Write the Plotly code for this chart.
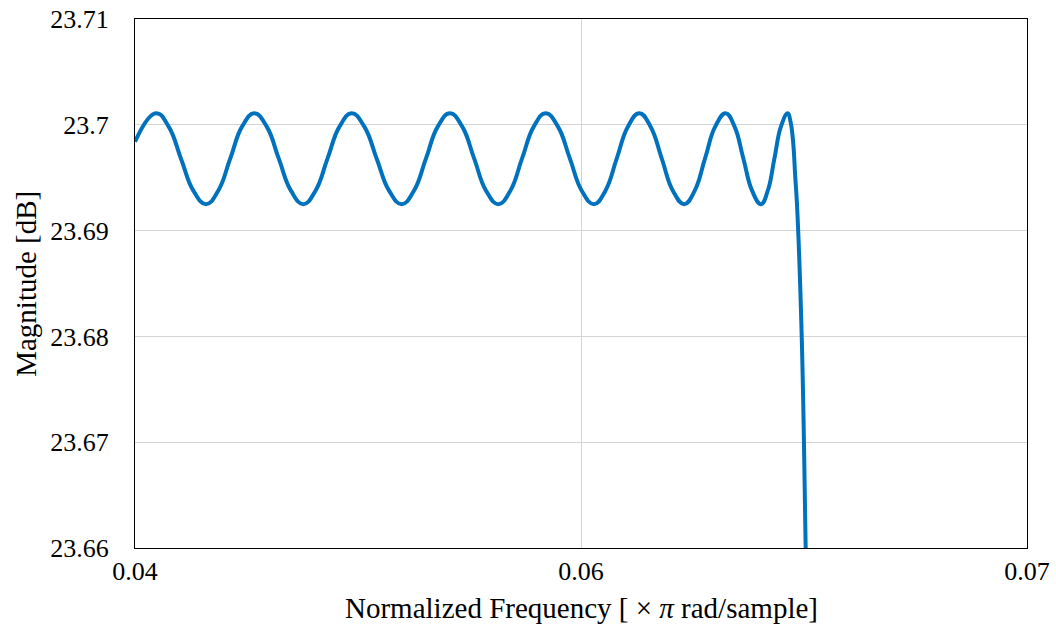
import plotly.graph_objects as go

# Normalized frequency (x pi rad/sample) and magnitude (dB)
freq = [
    0.040000, 0.040706, 0.041127, 0.041547, 0.041967, 0.042388,
    0.042795, 0.043202, 0.043605, 0.044012,
    0.044426, 0.044836, 0.045250, 0.045660,
    0.046067, 0.046474, 0.046881, 0.047288,
    0.047708, 0.048129, 0.048549, 0.048970,
    0.049377, 0.049784, 0.050187, 0.050594,
    0.051001, 0.051408, 0.051812, 0.052219,
    0.052619, 0.053016, 0.053416, 0.053813,
    0.054220, 0.054627, 0.055030, 0.055437,
    0.055817, 0.056201, 0.056581, 0.056961,
    0.057337, 0.057717, 0.058094, 0.058471,
    0.058821, 0.059170, 0.059517, 0.059866,
    0.060162, 0.060462, 0.060758, 0.061054,
    0.061279, 0.061504, 0.061726, 0.061952,
    0.062046, 0.062130, 0.062207, 0.062264, 0.062423, 0.062557, 0.062584,
]
mag = [
    23.6984, 23.7011, 23.69985, 23.6968, 23.69375, 23.6925,
    23.69375, 23.6968, 23.69985, 23.7011,
    23.69985, 23.6968, 23.69375, 23.6925,
    23.69375, 23.6968, 23.69985, 23.7011,
    23.69985, 23.6968, 23.69375, 23.6925,
    23.69375, 23.6968, 23.69985, 23.7011,
    23.69985, 23.6968, 23.69375, 23.6925,
    23.69375, 23.6968, 23.69985, 23.7011,
    23.69985, 23.6968, 23.69375, 23.6925,
    23.69375, 23.6968, 23.69985, 23.7011,
    23.69985, 23.6968, 23.69375, 23.6925,
    23.69375, 23.6968, 23.69985, 23.7011,
    23.69985, 23.6968, 23.69375, 23.6925,
    23.69375, 23.6968, 23.69985, 23.7011,
    23.7003, 23.6985, 23.6950, 23.6925, 23.6800, 23.6600, 23.6560,
]

x_tickvals = [0.04, 0.055, 0.07]
x_ticktext = ["0.04", "0.06", "0.07"]
y_tickvals = [23.66, 23.67, 23.68, 23.69, 23.70, 23.71]
y_ticktext = ["23.66", "23.67", "23.68", "23.69", "23.7", "23.71"]

fig = go.Figure()
fig.add_trace(go.Scatter(
    x=freq, y=mag, mode="lines",
    line=dict(color="#0072BD", width=4, shape="spline", smoothing=1.3),
    showlegend=False,
))

font_family = "Liberation Serif"
fig.update_layout(
    width=1056, height=624,
    margin=dict(l=135, r=29, t=19, b=76),
    paper_bgcolor="white", plot_bgcolor="white",
    font=dict(family=font_family, size=24, color="black"),
    xaxis=dict(
        range=[0.04, 0.07], tickvals=x_tickvals, ticktext=x_ticktext,
        showgrid=True, gridcolor="#d4d4d4", gridwidth=1,
        showline=True, linecolor="black", linewidth=1.2, mirror=True,
        ticks="", zeroline=False, automargin=False,
        tickfont=dict(family=font_family, size=26),
        ticklabelstandoff=0,
    ),
    yaxis=dict(
        range=[23.66, 23.71], tickvals=y_tickvals, ticktext=y_ticktext,
        showgrid=True, gridcolor="#d4d4d4", gridwidth=1,
        showline=True, linecolor="black", linewidth=1.2, mirror=True,
        ticks="", zeroline=False, automargin=False,
        tickfont=dict(family=font_family, size=26),
        ticklabelstandoff=20,
    ),
    annotations=[
        dict(text="Normalized Frequency [ × <i>π</i> rad/sample]",
             xref="paper", yref="paper", x=0.5, y=-0.114, xanchor="center", yanchor="middle",
             showarrow=False, font=dict(family=font_family, size=29)),
        dict(text="Magnitude [dB]", textangle=-90,
             xref="paper", yref="paper", x=-0.123, y=0.5, xanchor="center", yanchor="middle",
             showarrow=False, font=dict(family=font_family, size=29)),
    ],
)

fig.write_html("out.html", config={"displayModeBar": False},
               post_script="document.body.style.margin='0';")
